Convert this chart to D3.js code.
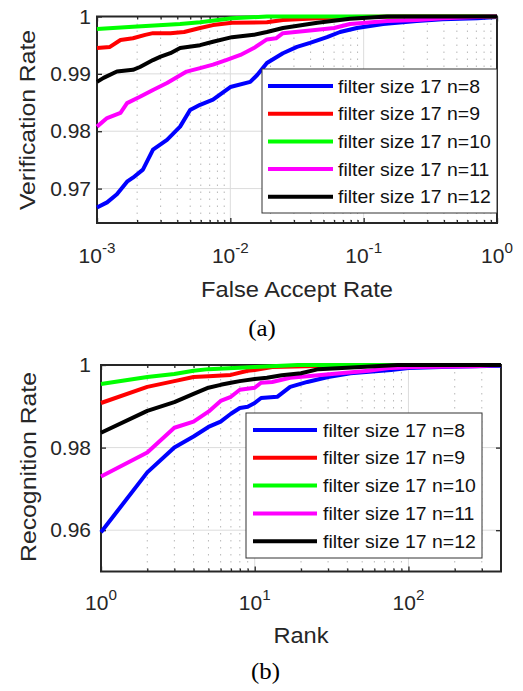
<!DOCTYPE html>
<html>
<head>
<meta charset="utf-8">
<script src="https://cdn.jsdelivr.net/npm/d3@7"></script>
<style>
  body { margin: 0; background: #fff; }
  svg { display: block; font-family: 'Liberation Sans', Arial, sans-serif; }
</style>
</head>
<body>
<div id="content"></div>
<script>
// Legend labels and line colours (same for both panels)
const seriesNames = ['filter size 17 n=8', 'filter size 17 n=9', 'filter size 17 n=10',
                     'filter size 17 n=11', 'filter size 17 n=12'];
const seriesColors = ['#0000ff', '#ff0000', '#00ff00', '#ff00ff', '#000000'];

// (a) verification rate vs false accept rate
const farTicks = [1e-3, 1e-2, 1e-1, 1];
const farTickExp = ['-3', '-2', '-1', '0'];
const verTicks = [0.97, 0.98, 0.99, 1];
const verTickLabels = ['0.97', '0.98', '0.99', '1'];

const verN8 = [[1e-3,0.9667],[1.19e-3,0.9676],[1.41e-3,0.969],[1.68e-3,0.9712],[1.86e-3,0.9719],
  [2.21e-3,0.9733],[2.63e-3,0.9768],[3.35e-3,0.9785],[4.2e-3,0.9808],[4.99e-3,0.9837],[5.93e-3,0.9846],
  [7.41e-3,0.9855],[1e-2,0.9877],[1.41e-2,0.9886],[1.59e-2,0.9898],[1.88e-2,0.9919],[2.48e-2,0.9936],
  [3.16e-2,0.9947],[3.96e-2,0.9954],[5.31e-2,0.9964],[6.65e-2,0.9973],[8.9e-2,0.998],[0.14,0.9987],
  [0.25,0.9992],[0.39,0.9995],[0.71,0.9997],[1,0.9999]];
const verN9 = [[1e-3,0.9945],[1.25e-3,0.9947],[1.5e-3,0.9959],[1.86e-3,0.9962],[2.3e-3,0.9968],
  [2.63e-3,0.9971],[3.55e-3,0.9971],[4.5e-3,0.9973],[5.93e-3,0.998],[7.41e-3,0.9985],[1.03e-2,0.9989],
  [1.88e-2,0.999],[2.48e-2,0.9994],[4.5e-2,0.9997],[7.9e-2,0.9999],[0.2,1],[1,1]];
const verN10 = [[1e-3,0.9978],[1.86e-3,0.9982],[4.2e-3,0.9987],[5.93e-3,0.999],[1.03e-2,0.9997],
  [1.88e-2,1],[1,1]];
const verN11 = [[1e-3,0.9808],[1.19e-3,0.9823],[1.5e-3,0.9832],[1.68e-3,0.9849],[2.1e-3,0.986],
  [2.63e-3,0.9872],[3.35e-3,0.9884],[4.7e-3,0.9904],[5.93e-3,0.991],[7.41e-3,0.9916],[9.3e-3,0.9924],
  [1.19e-2,0.9933],[1.5e-2,0.9945],[1.88e-2,0.996],[2.2e-2,0.9962],[2.48e-2,0.9971],[4.5e-2,0.9977],
  [6e-2,0.998],[7.9e-2,0.9987],[0.15,0.9992],[0.25,0.9994],[0.39,0.9997],[0.9,1],[1,1]];
const verN12 = [[1e-3,0.9886],[1.12e-3,0.9893],[1.41e-3,0.9904],[1.86e-3,0.9907],[2.1e-3,0.9912],
  [2.63e-3,0.9924],[3e-3,0.993],[3.55e-3,0.9936],[4.2e-3,0.9945],[5.93e-3,0.995],[7.41e-3,0.9956],
  [1.03e-2,0.9964],[1.5e-2,0.9968],[1.88e-2,0.9973],[2.2e-2,0.9977],[2.48e-2,0.998],[4.5e-2,0.9989],
  [7.9e-2,0.9996],[0.15,1],[1,1]];

// (b) recognition rate vs rank
const rankTicks = [1, 10, 100];
const rankTickExp = ['0', '1', '2'];
const recTicks = [0.96, 0.98, 1];
const recTickLabels = ['0.96', '0.98', '1'];

const recN8 = [[1,0.9595],[2,0.974],[3,0.980],[4,0.9827],[5,0.985],[6,0.9863],[7,0.9882],[8,0.9896],
  [9,0.9899],[10,0.9908],[11,0.992],[14,0.9923],[17,0.9947],[22,0.9959],[30,0.9971],[42,0.998],
  [77,0.9988],[100,0.9993],[164,0.9995],[270,0.9997],[400,0.9998]];
const recN9 = [[1,0.9908],[2,0.9947],[3,0.9961],[4,0.9971],[5,0.9973],[7,0.9976],[9,0.9986],
  [10,0.9988],[13,0.9995],[30,0.9998],[77,1],[400,1]];
const recN10 = [[1,0.9954],[2,0.9971],[3,0.9978],[4,0.9986],[5,0.999],[10,0.9995],[19,1],[400,1]];
const recN11 = [[1,0.973],[2,0.9788],[3,0.9848],[4,0.9863],[5,0.9887],[6,0.9913],[7,0.9923],
  [8,0.994],[10,0.9945],[11,0.9957],[13,0.9959],[17,0.9969],[22,0.9973],[36,0.998],[55,0.9986],
  [77,0.9993],[110,0.9995],[270,0.9997],[400,1]];
const recN12 = [[1,0.9836],[2,0.9889],[3,0.991],[4,0.993],[5,0.9945],[6,0.9952],[7,0.9957],
  [8,0.9961],[10,0.9966],[12,0.9969],[15,0.9975],[20,0.998],[26,0.999],[49,0.9995],[85,1],[400,1]];

const W = 523, H = 691;
const svg = d3.select('#content').append('svg').attr('width', W).attr('height', H);

function minorTicks(domain) {
  let out = [];
  let lo = Math.floor(Math.log10(domain[0])), hi = Math.ceil(Math.log10(domain[1]));
  for (let e = lo; e < hi; e++) {
    for (let m = 2; m <= 9; m++) {
      let v = m * Math.pow(10, e);
      if (v > domain[0] && v < domain[1]) out.push(+v.toPrecision(3));
    }
  }
  return out;
}

// Draw one panel
function panel(p) {
  let x = d3.scaleLog().domain(p.xDomain).range([p.left, p.right]);
  let y = d3.scaleLinear().domain(p.yDomain).range([p.bottom, p.top]);
  let g = svg.append('g');
  let minor = minorTicks(p.xDomain);

  // grid
  g.selectAll('line.minor').data(minor).join('line')
    .attr('x1', d => x(d)).attr('x2', d => x(d))
    .attr('y1', p.top).attr('y2', p.bottom)
    .attr('stroke', '#b8b8b8').attr('stroke-width', 1).attr('stroke-dasharray', '1.5,5.5');
  g.selectAll('line.vmajor').data(p.xTicks.filter(d => d > p.xDomain[0] && d < p.xDomain[1])).join('line')
    .attr('x1', d => x(d)).attr('x2', d => x(d))
    .attr('y1', p.top).attr('y2', p.bottom)
    .attr('stroke', '#dcdcdc').attr('stroke-width', 1);
  g.selectAll('line.hmajor').data(p.yTicks.filter(d => d < p.yDomain[1])).join('line')
    .attr('x1', p.left).attr('x2', p.right)
    .attr('y1', d => y(d)).attr('y2', d => y(d))
    .attr('stroke', '#dcdcdc').attr('stroke-width', 1);

  // axes (inward ticks on all four sides)
  let axes = [
    [d3.axisBottom(x).tickValues(p.xTicks).tickSize(-5), p.bottom, 'x'],
    [d3.axisTop(x).tickValues(p.xTicks).tickSize(-5), p.top, 'x'],
    [d3.axisBottom(x).tickValues(minor).tickSize(-3), p.bottom, 'x'],
    [d3.axisTop(x).tickValues(minor).tickSize(-3), p.top, 'x'],
    [d3.axisLeft(y).tickValues(p.yTicks).tickSize(-5), p.left, 'y'],
    [d3.axisRight(y).tickValues(p.yTicks).tickSize(-5), p.right, 'y']
  ];
  axes.forEach(([ax, pos, dir]) => {
    let a = g.append('g')
      .attr('transform', dir === 'x' ? 'translate(0,' + pos + ')' : 'translate(' + pos + ',0)')
      .call(ax.tickFormat('').tickSizeOuter(0));
    a.select('.domain').remove();
    a.selectAll('.tick line').attr('stroke', '#262626').attr('stroke-width', 1.3);
  });
  g.append('rect')
    .attr('x', p.left).attr('y', p.top)
    .attr('width', p.right - p.left).attr('height', p.bottom - p.top)
    .attr('fill', 'none').attr('stroke', '#262626').attr('stroke-width', 2);

  // tick labels
  g.selectAll('text.xt').data(p.xTicks).join('text')
    .attr('transform', d => 'translate(' + x(d) + ',' + p.xLabelY + ') scale(1.05,1)')
    .attr('text-anchor', 'middle').attr('font-size', 20).attr('fill', '#262626')
    .each(function(d, i) {
      let t = d3.select(this);
      t.append('tspan').text('10');
      t.append('tspan').attr('dy', -10).attr('font-size', 14.5).text(p.xTickExp[i]);
    });
  g.selectAll('text.yt').data(p.yTicks).join('text')
    .attr('transform', d => 'translate(91,' + (y(d) + 7) + ') scale(1.05,1)')
    .attr('text-anchor', 'end').attr('font-size', 20).attr('fill', '#262626')
    .text((d, i) => p.yTickLabels[i]);

  // axis titles
  g.append('text')
    .attr('transform', 'translate(' + ((p.left + p.right) / 2) + ',' + p.xTitleY + ') scale(1.1,1)')
    .attr('text-anchor', 'middle').attr('font-size', 21.5).attr('fill', '#262626')
    .text(p.xTitle);
  g.append('text')
    .attr('transform', 'translate(' + p.yTitleX + ',' + p.yTitleMid + ') rotate(-90) scale(1.1,1)')
    .attr('text-anchor', 'middle').attr('font-size', 22.5).attr('fill', '#262626')
    .text(p.yTitle);

  // curves
  let line = d3.line().x(d => x(d[0])).y(d => y(d[1]));
  g.selectAll('path.curve').data(p.series).join('path')
    .attr('d', line)
    .attr('fill', 'none')
    .attr('stroke', (d, i) => seriesColors[i])
    .attr('stroke-width', 4)
    .attr('stroke-linejoin', 'round');

  // legend
  let L = p.legend;
  let lg = g.append('g');
  lg.append('rect')
    .attr('x', L.x0).attr('y', L.y0).attr('width', L.x1 - L.x0).attr('height', L.y1 - L.y0)
    .attr('fill', '#fff').attr('stroke', '#333').attr('stroke-width', 1);
  seriesNames.forEach((name, i) => {
    let cy = L.row0 + i * L.step;
    lg.append('line')
      .attr('x1', L.lineX0).attr('x2', L.lineX1).attr('y1', cy).attr('y2', cy)
      .attr('stroke', seriesColors[i]).attr('stroke-width', 4);
    lg.append('text')
      .attr('transform', 'translate(' + L.textX + ',' + (cy + 6.5) + ') scale(1.08,1)')
      .attr('font-size', 18).attr('fill', '#111')
      .text(name);
  });
}

panel({
  left: 97, right: 497, top: 16.5, bottom: 223,
  xDomain: [1e-3, 1], yDomain: [0.964, 1],
  xTicks: farTicks, xTickExp: farTickExp, yTicks: verTicks, yTickLabels: verTickLabels,
  xLabelY: 263, xTitle: 'False Accept Rate', xTitleY: 297,
  yTitle: 'Verification Rate', yTitleX: 35, yTitleMid: 120,
  series: [verN8, verN9, verN10, verN11, verN12],
  legend: {x0: 262, x1: 497, y0: 69, y1: 213, row0: 86, step: 27.7, lineX0: 268, lineX1: 333, textX: 338}
});

panel({
  left: 101, right: 501, top: 365, bottom: 571.5,
  xDomain: [1, 400], yDomain: [0.95, 1],
  xTicks: rankTicks, xTickExp: rankTickExp, yTicks: recTicks, yTickLabels: recTickLabels,
  xLabelY: 610, xTitle: 'Rank', xTitleY: 643,
  yTitle: 'Recognition Rate', yTitleX: 36, yTitleMid: 467,
  series: [recN8, recN9, recN10, recN11, recN12],
  legend: {x0: 246, x1: 482, y0: 413, y1: 558, row0: 430, step: 27.8, lineX0: 253, lineX1: 317, textX: 323}
});

// captions
svg.append('text').attr('transform', 'translate(262,336) scale(1.08,1)')
  .attr('text-anchor', 'middle').attr('font-family', "'Liberation Serif', 'Times New Roman', serif")
  .attr('font-size', 23).text('(a)');
svg.append('text').attr('transform', 'translate(265.5,679) scale(1.08,1)')
  .attr('text-anchor', 'middle').attr('font-family', "'Liberation Serif', 'Times New Roman', serif")
  .attr('font-size', 23).text('(b)');
</script>
</body>
</html>
